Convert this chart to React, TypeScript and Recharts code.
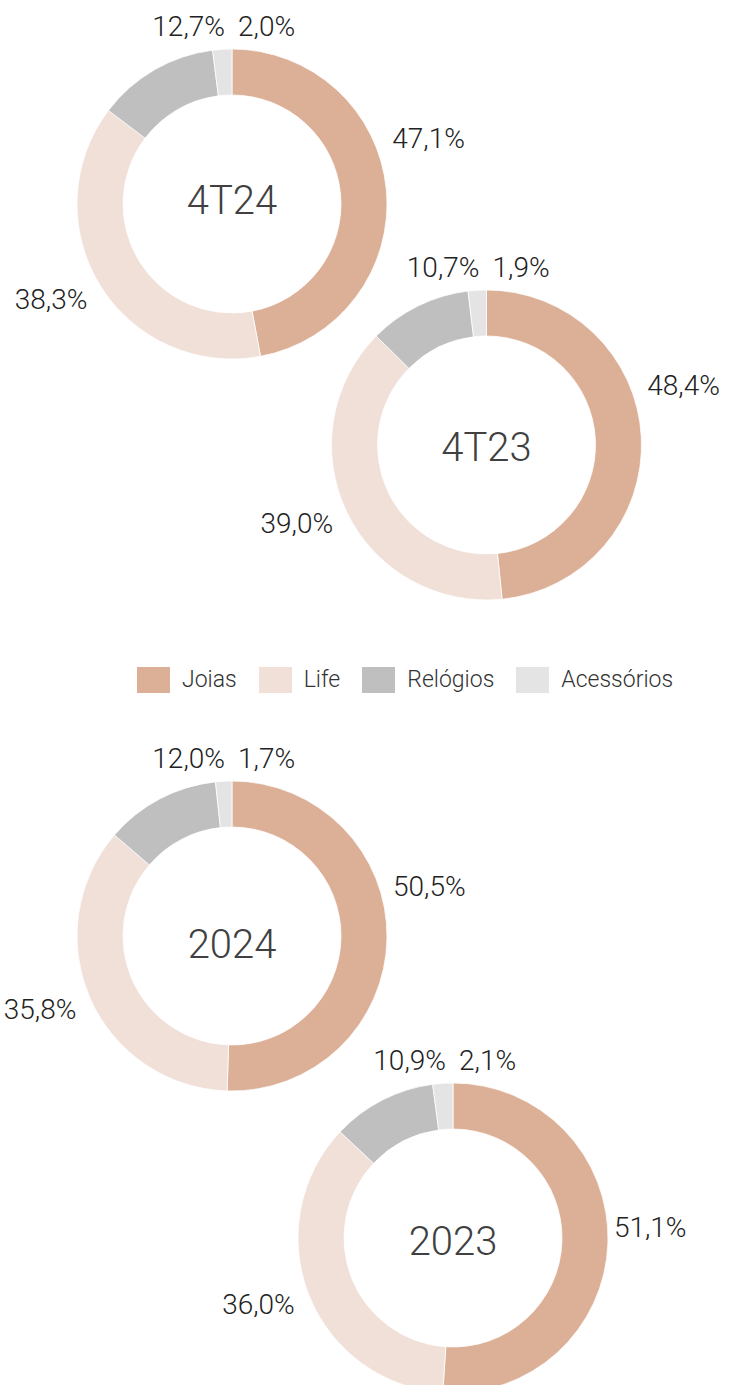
import React from 'react';
import { PieChart, Pie, Cell } from 'recharts';

// Categorias e valores (% da receita)
const categories = ['Joias', 'Life', 'Relógios', 'Acessórios'];
const colors = ['#DCB097', '#F0E0D8', '#BFBFBF', '#E4E4E4'];
const periods = ['4T24', '4T23', '2024', '2023'];
const values4T24 = [47.1, 38.3, 12.7, 2.0];
const values4T23 = [48.4, 39.0, 10.7, 1.9];
const values2024 = [50.5, 35.8, 12.0, 1.7];
const values2023 = [51.1, 36.0, 10.9, 2.1];
const seriesValues = [values4T24, values4T23, values2024, values2023];

// Posição de cada rosca no desenho
const layout = [
    { cx: 232, cy: 204, titleDy: 10, joiasLift: -50 },
    { cx: 486.5, cy: 445, titleDy: 16, joiasLift: -51 },
    { cx: 232, cy: 936, titleDy: 22, joiasLift: -53 },
    { cx: 453, cy: 1238, titleDy: 17, joiasLift: -17 },
];

const FONT = '"Roboto Light", Roboto, "Noto Sans", sans-serif';
const RAD = Math.PI / 180;
const fmt = (v: number) => v.toFixed(1).replace('.', ',') + '%';

const makeLabel = (k: number) => (props: any) => {
    const { midAngle, index, value } = props;
    const { cx, cy, titleDy, joiasLift } = layout[k];
    const cos = Math.cos(midAngle * RAD);
    const sin = Math.sin(midAngle * RAD);
    let x = cx;
    let y = cy;
    let anchor: 'start' | 'end' = 'start';
    if (index === 0) {
        x = cx + 161 * cos;
        y = cy - 170 * sin + joiasLift + 10;
    } else if (index === 1) {
        x = cx + 170 * cos;
        y = cy - 180 * sin + 10;
        anchor = 'end';
    } else if (index === 2) {
        x = cx - 7;
        y = cy - 168;
        anchor = 'end';
    } else {
        x = cx + 6;
        y = cy - 168;
    }
    return (
        <g>
            <text x={x} y={y} textAnchor={anchor} fill="#222222" fontSize={28} fontWeight={300} fontFamily={FONT}>
                {fmt(value)}
            </text>
            {index === 0 && (
                <text x={cx} y={cy + titleDy} textAnchor="middle" fill="#404040" fontSize={40} fontWeight={300} fontFamily={FONT}>
                    {periods[k]}
                </text>
            )}
        </g>
    );
};

const App = () => {
    return (
        <div style={{ position: 'absolute', left: 0, top: 0, width: 737, height: 1385, background: '#fff', fontFamily: FONT }}>
            <PieChart
                width={737}
                height={1385}
                margin={{ top: 0, right: 0, bottom: 0, left: 0 }}
                style={{ position: 'absolute', left: 0, top: 0 }}
            >
                {seriesValues.map((vals, k) => (
                    <Pie
                        key={periods[k]}
                        data={categories.map((name, i) => ({ name, value: vals[i] }))}
                        dataKey="value"
                        nameKey="name"
                        cx={layout[k].cx}
                        cy={layout[k].cy}
                        innerRadius={109}
                        outerRadius={155}
                        startAngle={90}
                        endAngle={-270}
                        stroke="#ffffff"
                        strokeWidth={0.75}
                        labelLine={false}
                        label={makeLabel(k)}
                        isAnimationActive={false}
                    >
                        {categories.map((c, i) => (
                            <Cell key={c} fill={colors[i]} />
                        ))}
                    </Pie>
                ))}
            </PieChart>
            <div style={{
                position: 'absolute',
                left: 137,
                top: 667,
                height: 26,
                display: 'flex',
                alignItems: 'center',
            }}>
                {categories.map((c, i) => (
                    <div key={c} style={{ display: 'flex', alignItems: 'center', marginRight: 22 }}>
                        <div style={{ width: 33, height: 26, background: colors[i], marginRight: 12 }} />
                        <span style={{ fontSize: 23, fontWeight: 300, color: '#333333', lineHeight: '26px' }}>{c}</span>
                    </div>
                ))}
            </div>
        </div>
    );
};

export default App;
